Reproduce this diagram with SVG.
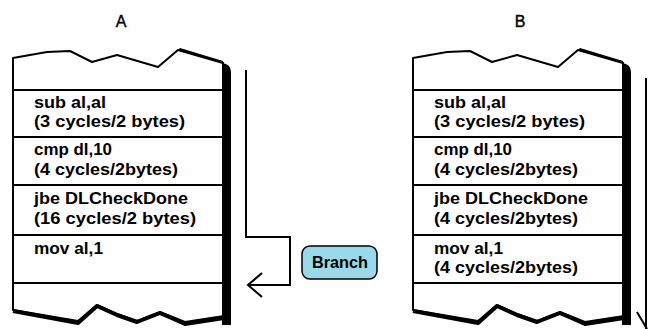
<svg xmlns="http://www.w3.org/2000/svg" width="649" height="329" viewBox="0 0 649 329">
<style>
.t{font-family:"Liberation Sans",Arial,sans-serif;font-weight:bold;font-size:16px;fill:#000}
.title{font-family:"Liberation Sans",Arial,sans-serif;font-size:16px;fill:#000;text-anchor:middle;stroke:#000;stroke-width:0.4}
.box{fill:#fff;stroke:#000;stroke-width:2;stroke-linejoin:round}
.div{stroke:#000;stroke-width:2}
.bot{fill:none;stroke:#000;stroke-width:4;stroke-linejoin:round}
.conn{fill:none;stroke:#000;stroke-width:2}
</style>
<defs>
<g id="stack">
<path class="box" d="M13,58 L47,52 L70,51 L92,62 L117,55 L158,67 L178,50 L223,63 L224,316 L185,322 L160,312 L137,321 L117,314 L97,305 L78,321 L13,310 Z"/>
<path d="M178,50 L223,63 L223,61 L180,48 Z" fill="#000"/>
<path d="M222,63 Q231,64 231,72 L231,325 L222,325 Z" fill="#000"/>
<polyline class="bot" points="13,311 78,323 97,306 117,315 137,322 160,313 185,324 224,318"/>
<line class="div" x1="13" y1="90" x2="224" y2="90"/>
<line class="div" x1="13" y1="137" x2="224" y2="137"/>
<line class="div" x1="13" y1="185" x2="224" y2="185"/>
<line class="div" x1="13" y1="235" x2="224" y2="235"/>
<line class="div" x1="13" y1="283" x2="224" y2="283"/>
</g>
</defs>
<text class="title" x="121" y="27">A</text>
<text class="title" x="520" y="27">B</text>
<g id="nodeA">
<use href="#stack"/>
<text class="t" x="34" y="108" textLength="72" lengthAdjust="spacingAndGlyphs">sub al,al</text>
<text class="t" x="34" y="127" textLength="151" lengthAdjust="spacingAndGlyphs">(3 cycles/2 bytes)</text>
<text class="t" x="34" y="155" textLength="78" lengthAdjust="spacingAndGlyphs">cmp dl,10</text>
<text class="t" x="34" y="175" textLength="144" lengthAdjust="spacingAndGlyphs">(4 cycles/2bytes)</text>
<text class="t" x="34" y="204" textLength="154" lengthAdjust="spacingAndGlyphs">jbe DLCheckDone</text>
<text class="t" x="34" y="224" textLength="162" lengthAdjust="spacingAndGlyphs">(16 cycles/2 bytes)</text>
<text class="t" x="34" y="254" textLength="69" lengthAdjust="spacingAndGlyphs">mov al,1</text>
</g>
<g id="nodeB">
<use href="#stack" x="400"/>
<text class="t" x="434" y="108" textLength="72" lengthAdjust="spacingAndGlyphs">sub al,al</text>
<text class="t" x="434" y="127" textLength="151" lengthAdjust="spacingAndGlyphs">(3 cycles/2 bytes)</text>
<text class="t" x="434" y="155" textLength="78" lengthAdjust="spacingAndGlyphs">cmp dl,10</text>
<text class="t" x="434" y="175" textLength="144" lengthAdjust="spacingAndGlyphs">(4 cycles/2bytes)</text>
<text class="t" x="434" y="204" textLength="154" lengthAdjust="spacingAndGlyphs">jbe DLCheckDone</text>
<text class="t" x="434" y="224" textLength="144" lengthAdjust="spacingAndGlyphs">(4 cycles/2bytes)</text>
<text class="t" x="434" y="254" textLength="69" lengthAdjust="spacingAndGlyphs">mov al,1</text>
<text class="t" x="434" y="273" textLength="144" lengthAdjust="spacingAndGlyphs">(4 cycles/2bytes)</text>
</g>
<g id="branch">
<rect x="302" y="246" width="75" height="33" rx="8" fill="#99d9ea" stroke="#000" stroke-width="1.5"/>
<text class="t" x="340" y="268" text-anchor="middle" textLength="56" lengthAdjust="spacingAndGlyphs">Branch</text>
</g>
<g id="connectors">
<polyline class="conn" points="246,70 246,237 290,237 290,285 248,285"/>
<polyline class="conn" points="262,273 248,285 262,297"/>
<line class="conn" x1="646" y1="78" x2="646" y2="332"/>
<line class="conn" x1="637" y1="312" x2="647" y2="329"/>
</g>
</svg>
